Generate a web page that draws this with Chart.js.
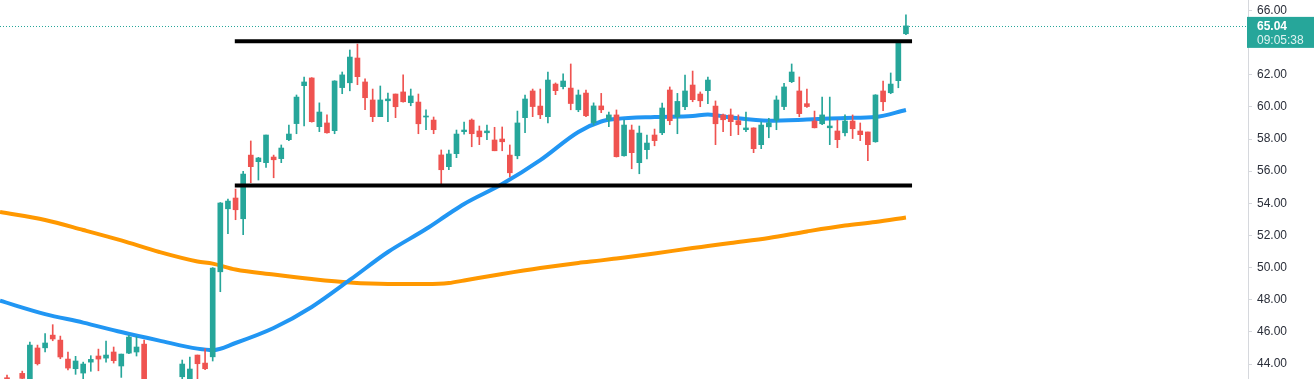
<!DOCTYPE html>
<html>
<head>
<meta charset="utf-8">
<script src="https://cdn.jsdelivr.net/npm/chart.js@4.4.1/dist/chart.umd.min.js"></script>
<style>
  html, body { margin: 0; padding: 0; background: #ffffff; }
  #wrap { width: 1314px; height: 379px; position: relative; }
</style>
</head>
<body>
<div id="wrap"><canvas id="candles"></canvas></div>
<script>
// candle data, index = bar number
const opens = [43.15,42.8,43.42,43.0,45.0,45.01,45.80,45.49,44.31,43.71,43.44,44.12,44.5,44.37,44.75,43.88,44.68,44.75,45.24,42.9,
  42.4,42.7,42.6,43.21,42.9,44.56,44.06,44.45,49.74,53.66,54.33,53.04,57.0,56.59,56.53,56.88,56.78,57.96,58.96,61.32,
  61.80,58.77,59.0,58.52,61.2,61.5,63.04,61.55,60.43,59.39,60.38,60.8,60.93,60.26,60.30,59.37,59.18,57.01,56.28,57.09,
  58.46,59.18,58.50,58.39,57.94,58.0,57.0,56.96,59.33,60.99,60.05,59.39,61.42,61.26,61.17,59.82,60.86,59.02,60.06,59.2,
  59.5,56.96,58.56,56.53,57.34,58.25,58.39,61.05,59.39,60.01,61.36,60.80,61.01,60.05,59.50,59.50,59.14,58.58,58.69,57.65,
  58.76,59.18,60.02,61.57,60.99,60.20,59.12,58.95,58.70,58.50,58.39,59.12,58.50,58.44,57.83,60.99,60.88,61.63,64.55];
const highs = [43.32,42.95,43.56,45.37,45.18,45.89,46.45,45.74,44.75,44.48,44.12,44.52,44.93,45.43,45.06,44.62,45.78,45.70,45.49,43.0,
  42.9,42.95,43.0,44.25,44.44,44.56,44.95,50.0,54.05,54.27,54.89,55.99,57.88,56.86,58.25,57.0,57.63,58.87,60.74,61.86,
  61.82,60.25,59.5,61.63,62.17,63.54,63.91,61.74,61.11,61.3,60.86,60.8,61.99,61.11,60.8,59.81,59.37,57.32,57.32,58.56,
  59.06,59.25,58.81,58.87,58.73,58.75,57.63,59.74,60.74,61.11,61.11,62.17,61.49,62.05,62.67,61.05,61.05,60.25,60.84,59.68,
  59.81,59.18,58.87,58.81,58.25,58.62,60.24,61.24,60.84,61.98,62.23,60.93,61.86,60.37,59.56,59.87,59.50,59.68,58.7,59.06,
  59.29,60.68,61.47,62.67,61.86,61.11,59.74,60.61,60.61,59.18,59.50,59.50,59.0,58.44,60.76,61.61,62.11,64.0,65.72];
const lows = [42.7,42.3,42.9,42.8,43.94,44.75,45.45,44.33,43.63,43.36,43.0,43.55,43.58,44.12,44.06,43.17,44.64,44.50,42.8,42.2,
  42.0,42.3,42.4,42.9,42.7,43.05,43.65,44.19,48.5,52.11,52.98,52.05,55.28,55.45,56.24,55.59,56.53,57.90,58.33,58.81,
  59.05,58.46,58.37,58.33,60.82,61.0,61.38,59.82,59.08,59.39,59.08,59.33,60.30,60.07,58.33,58.58,58.33,55.2,56.1,56.84,
  58.31,57.52,57.65,57.96,57.27,57.27,55.65,56.77,58.39,59.39,59.27,59.01,60.76,61.11,59.82,59.70,59.39,58.87,59.64,58.77,
  56.88,56.94,56.15,55.84,56.77,57.58,58.27,58.89,58.33,59.82,60.32,60.01,60.20,57.65,58.46,58.21,58.27,58.46,57.15,57.40,
  58.08,58.58,59.82,61.51,59.39,59.96,58.69,58.89,57.65,57.46,58.20,58.03,57.90,56.65,57.80,59.76,60.82,61.19,64.5];
const closes = [42.9,42.5,43.11,45.18,44.02,45.31,45.56,44.44,43.75,44.19,44.0,44.29,44.31,44.56,44.21,44.62,45.68,45.06,43.0,42.4,
  42.7,42.6,42.8,44.0,43.69,44.02,43.71,49.97,54.02,54.14,53.60,55.82,56.28,56.82,58.25,56.71,57.44,58.31,60.61,61.55,
  59.08,59.68,58.39,61.61,61.99,63.1,61.88,60.57,59.39,60.43,60.49,60.01,60.32,60.68,58.95,59.43,58.58,56.09,57.07,58.31,
  58.56,58.33,58.14,58.5,57.27,57.83,55.90,59.0,60.49,60.02,59.51,61.67,61.01,61.61,60.21,60.74,59.45,60.06,59.82,59.5,
  56.9,58.87,57.15,58.37,57.75,57.90,59.93,59.14,60.34,60.99,60.45,60.38,61.67,58.95,59.20,59.08,58.89,58.69,57.40,58.87,
  59.01,60.43,61.24,62.17,59.58,60.02,58.70,59.50,58.81,57.96,59.12,58.64,58.27,57.65,60.74,60.32,61.42,63.98,65.04];

const maBars = [-0.92,5,10,15,20,25,27,30,35,40,45,50,55,58,60,65,70,75,78,80,85,90,92,95,100,105,110,114,118];
const maFast = [47.94,47.11,46.58,45.99,45.46,44.96,44.87,45.31,46.24,47.55,49.23,50.97,52.40,53.35,53.96,55.20,56.69,58.44,59.09,59.25,59.37,59.43,59.53,59.34,59.14,59.21,59.31,59.37,59.81];
const maSlow = [53.46,52.96,52.34,51.69,50.97,50.38,50.25,49.88,49.57,49.29,49.07,48.98,48.98,49.04,49.20,49.60,49.97,50.29,50.45,50.57,50.88,51.22,51.34,51.53,51.84,52.25,52.62,52.84,53.12];

// horizontal levels drawn from bar levelFrom to bar levelTo
const levels = [64.08, 55.11];
const levelFrom = 29.9;
const levelTo = 118.8;

const yTicks = [44, 46, 48, 50, 52, 54, 56, 58, 60, 62, 64, 66];
const lastPrice = "65.04";
const countdown = "09:05:38";

const upColor = "#26a69a";
const downColor = "#ef5350";

let candlechart = null;

function createCandleChart() {
  "use strict";

  const colors = closes.map((c, i) => (c >= opens[i] ? upColor : downColor));
  const wicks = lows.map((l, i) => ({ x: i, y: [l, highs[i]] }));
  const bodies = opens.map((o, i) => ({ x: i, y: [o, closes[i]] }));
  const fast = maBars.map((b, i) => ({ x: b, y: maFast[i] }));
  const slow = maBars.map((b, i) => ({ x: b, y: maSlow[i] }));

  const levelSets = levels.map(v => ({
    type: "line",
    data: [{ x: levelFrom, y: v }, { x: levelTo, y: v }],
    borderColor: "#000000",
    borderWidth: 4,
    pointRadius: 0,
    order: 0
  }));

  const lastLine = {
    id: "lastLine",
    afterDatasetsDraw(chart) {
      const ctx = chart.ctx;
      const area = chart.chartArea;
      const y = Math.round(chart.scales.y.getPixelForValue(closes[closes.length - 1])) + 0.5;
      ctx.save();
      ctx.strokeStyle = upColor;
      ctx.lineWidth = 1;
      ctx.setLineDash([1, 2]);
      ctx.beginPath();
      ctx.moveTo(area.left, y);
      ctx.lineTo(area.right, y);
      ctx.stroke();
      ctx.restore();
    },
    afterDraw(chart) {
      const ctx = chart.ctx;
      const area = chart.chartArea;
      const y = chart.scales.y.getPixelForValue(closes[closes.length - 1]);
      ctx.save();
      ctx.fillStyle = upColor;
      ctx.fillRect(area.right - 1, y - 9, chart.width - area.right + 1, 31);
      ctx.textBaseline = "middle";
      ctx.textAlign = "left";
      ctx.fillStyle = "#ffffff";
      ctx.font = "bold 12px 'Liberation Sans', Arial, sans-serif";
      ctx.fillText(lastPrice, area.right + 9, y + 0.5);
      ctx.fillStyle = "#dff3f1";
      ctx.font = "12px 'Liberation Sans', Arial, sans-serif";
      ctx.fillText(countdown, area.right + 9, y + 14.5);
      ctx.restore();
    }
  };

  const config = {
    data: {
      datasets: [
        ...levelSets,
        {
          type: "bar",
          data: bodies,
          backgroundColor: colors,
          barThickness: 5,
          minBarLength: 1,
          grouped: false,
          order: 1
        },
        {
          type: "bar",
          data: wicks,
          backgroundColor: colors,
          barThickness: 1,
          grouped: false,
          order: 2
        },
        {
          type: "line",
          data: fast,
          borderColor: "#2196f3",
          borderWidth: 4,
          pointRadius: 0,
          cubicInterpolationMode: "monotone",
          order: 3
        },
        {
          type: "line",
          data: slow,
          borderColor: "#ff9800",
          borderWidth: 4,
          pointRadius: 0,
          cubicInterpolationMode: "monotone",
          order: 4
        }
      ]
    },
    options: {
      responsive: true,
      maintainAspectRatio: false,
      animation: false,
      layout: { padding: 0 },
      plugins: {
        legend: { display: false },
        tooltip: { enabled: false }
      },
      scales: {
        x: {
          type: "linear",
          min: -0.92,
          max: 162.9,
          offset: false,
          display: false
        },
        y: {
          position: "right",
          min: 43.07,
          max: 66.65,
          afterFit(scale) {
            scale.width = 66;
            scale.paddingTop = 0;
            scale.paddingBottom = 0;
          },
          afterBuildTicks(scale) {
            scale.ticks = yTicks.map(v => ({ value: v }));
          },
          border: { color: "#d6d8dd" },
          grid: {
            drawOnChartArea: false,
            tickLength: 4,
            color: "#d6d8dd"
          },
          ticks: {
            padding: 5,
            color: "#2a2e39",
            font: { family: "'Liberation Sans', Arial, sans-serif", size: 12 },
            callback: v => v.toFixed(2)
          }
        }
      }
    },
    plugins: [lastLine]
  };

  if (candlechart != null) {
    candlechart.destroy();
  }
  candlechart = new Chart(document.getElementById("candles"), config);
}

createCandleChart();
</script>
</body>
</html>
